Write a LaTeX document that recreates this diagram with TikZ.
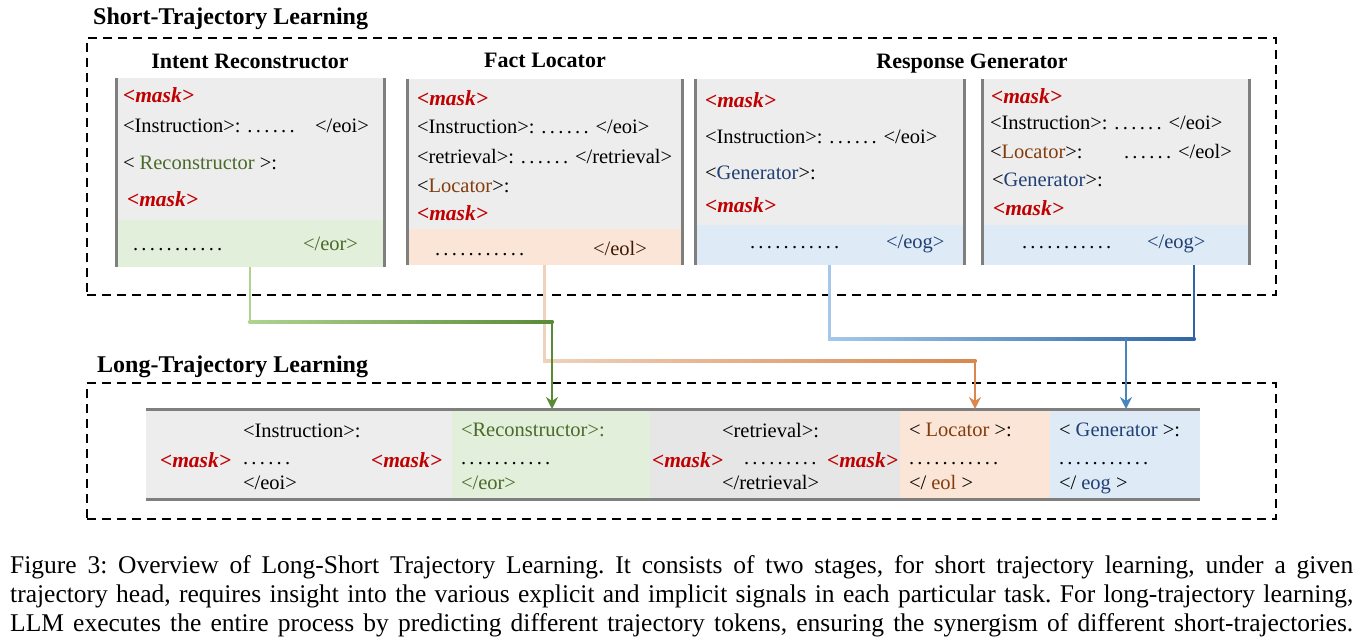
\documentclass[tikz,border=0pt]{standalone}
\usepackage{fontspec}
\setmainfont{Liberation Serif}
\usetikzlibrary{arrows.meta,calc}

% palette
\definecolor{maskred}{HTML}{C00000}
\definecolor{cellgray}{HTML}{EDEDED}
\definecolor{cellgrayB}{HTML}{E6E6E6}
\definecolor{cellgreen}{HTML}{E2EFDA}
\definecolor{cellpeach}{HTML}{FBE5D6}
\definecolor{cellblue}{HTML}{DEEBF7}
\definecolor{recon}{HTML}{4A6A2A}
\definecolor{locat}{HTML}{843C0C}
\definecolor{gener}{HTML}{203F73}
\definecolor{rulegray}{HTML}{7F7F7F}
\definecolor{glight}{HTML}{AED490}
\definecolor{gdark}{HTML}{5A8A36}
\definecolor{plight}{HTML}{EFD2BC}
\definecolor{pdark}{HTML}{D9874E}
\definecolor{blight}{HTML}{A4C8EA}
\definecolor{bdark}{HTML}{2F66A3}
\definecolor{bmid}{HTML}{4A84BF}

% widely spaced dot runs
\newcommand\dd{.\kern3.3pt}
\newcommand\dotsix{\dd\dd\dd\dd\dd.}
\newcommand\dotnine{\dd\dd\dd\dd\dd\dd\dd\dd.}
\newcommand\dotelev{\dd\dd\dd\dd\dd\dd\dd\dd\dd\dd.}
\newcommand\mk{\textcolor{maskred}{\fontsize{21.5}{24}\selectfont\bfseries\itshape <mask>}}

\tikzset{
  txt/.style={anchor=base west, inner sep=0pt, outer sep=0pt, font=\fontsize{20.5}{24}\selectfont},
  ttl/.style={anchor=base, inner sep=0pt, font=\fontsize{22}{26}\selectfont\bfseries},
  sec/.style={anchor=base west, inner sep=0pt, font=\fontsize{24}{28}\selectfont\bfseries},
  cellbox/.style={anchor=north west, inner sep=0pt, outer sep=0pt},
  frame/.style={anchor=north west, inner sep=0pt, outer sep=0pt, draw=black,
                line width=2.4pt, dash pattern=on 9pt off 6pt},
  siderule/.style={draw=rulegray, line width=3pt},
  conn/.style={line width=2.6pt},
  tip/.style={-{Stealth[length=12pt,width=12pt,inset=4pt]}},
  capline/.style={anchor=base west, inner sep=0pt, font=\fontsize{25.5}{29}\selectfont\frenchspacing},
}

\begin{document}
\begin{tikzpicture}[x=1pt,y=-1pt]
\useasboundingbox (0,0) rectangle (1362,643);

% ---------- section frames ----------
\node[frame, minimum width=1189pt, minimum height=257pt] (st) at (87,38) {};
\node[frame, minimum width=1189pt, minimum height=136pt] (lg) at (87,383) {};
\node[sec] (s1) at (93,24.5) {Short-Trajectory Learning};
\node[sec] (s2) at (97,372) {Long-Trajectory Learning};

% ---------- short-trajectory cells ----------
\node[cellbox, minimum width=268pt, minimum height=189pt] (ir) at (116,78) {};
\node[cellbox, minimum width=275pt, minimum height=186pt] (fl) at (407,79) {};
\node[cellbox, minimum width=269pt, minimum height=186pt] (rg) at (695,79) {};
\node[cellbox, minimum width=267pt, minimum height=186pt] (rl) at (982,79) {};

\fill[cellgray] (ir.north west) rectangle (ir.south east);
\fill[cellgreen] (ir.south west) rectangle ([yshift=47pt]ir.south east);
\fill[cellgray] (fl.north west) rectangle (fl.south east);
\fill[cellpeach] (fl.south west) rectangle ([yshift=36pt]fl.south east);
\fill[cellgray] (rg.north west) rectangle (rg.south east);
\fill[cellblue] (rg.south west) rectangle ([yshift=40pt]rg.south east);
\fill[cellgray] (rl.north west) rectangle (rl.south east);
\fill[cellblue] (rl.south west) rectangle ([yshift=40pt]rl.south east);
\foreach \b in {ir,fl,rg,rl}{
  \draw[siderule] (\b.north west) -- (\b.south west);
  \draw[siderule] (\b.north east) -- (\b.south east);
}

\node[ttl] (t1) at (250,68) {Intent Reconstructor};
\node[ttl] (t2) at (545,67) {Fact Locator};
\node[ttl] (t3) at (972,68) {Response Generator};

% Intent Reconstructor
\node[txt] (a1) at (123,102) {\mk};
\node[txt] (a2) at (123,132.5) {<Instruction>: \dotsix};
\node[txt] (a3) at (315,132.5) {</eoi>};
\node[txt] (a4) at (123,169.5) {< \textcolor{recon}{Reconstructor} >:};
\node[txt] (a5) at (127,206) {\mk};
\node[txt] (a6) at (133,250) {\dotelev};
\node[txt] (a7) at (303,250) {\textcolor{recon}{</eor>}};

% Fact Locator
\node[txt] (b1) at (417,105) {\mk};
\node[txt] (b2) at (417,133.5) {<Instruction>: \dotsix{} </eoi>};
\node[txt] (b3) at (417,163.5) {<retrieval>: \dotsix{} </retrieval>};
\node[txt] (b4) at (417,192.5) {<\textcolor{locat}{Locator}>:};
\node[txt] (b5) at (417,220) {\mk};
\node[txt] (b6) at (435,255) {\dotelev};
\node[txt] (b7) at (593,255) {\textcolor{locat!45!black}{</eol>}};

% Response Generator (first)
\node[txt] (c1) at (705,107) {\mk};
\node[txt] (c2) at (705,143.5) {<Instruction>: \dotsix{} </eoi>};
\node[txt] (c3) at (705,179.5) {<\textcolor{gener}{Generator}>:};
\node[txt] (c4) at (705,212) {\mk};
\node[txt] (c5) at (750,248) {\dotelev};
\node[txt] (c6) at (886,248) {\textcolor{gener}{</eog>}};

% Response Generator (second)
\node[txt] (d1) at (991,103) {\mk};
\node[txt] (d2) at (990,129.5) {<Instruction>: \dotsix{} </eoi>};
\node[txt] (d3) at (990,158.5) {<\textcolor{locat}{Locator}>:};
\node[txt] (d4) at (1124,158.5) {\dotsix{} </eol>};
\node[txt] (d5) at (992,186.5) {<\textcolor{gener}{Generator}>:};
\node[txt] (d6) at (993,215) {\mk};
\node[txt] (d7) at (1022,248) {\dotelev};
\node[txt] (d8) at (1147,248) {\textcolor{gener}{</eog>}};

% ---------- long-trajectory strip ----------
\node[cellbox, minimum width=1054pt, minimum height=90pt] (lt) at (146,409) {};
\fill[cellgray]  (lt.north west) rectangle ([xshift=306pt]lt.south west);
\fill[cellgreen] ([xshift=306pt]lt.north west) rectangle ([xshift=504pt]lt.south west);
\fill[cellgrayB] ([xshift=504pt]lt.north west) rectangle ([xshift=754pt]lt.south west);
\fill[cellpeach] ([xshift=754pt]lt.north west) rectangle ([xshift=904pt]lt.south west);
\fill[cellblue]  ([xshift=904pt]lt.north west) rectangle (lt.south east);
\draw[siderule] (lt.north west) -- (lt.north east);
\draw[siderule] (lt.south west) -- (lt.south east);

\node[txt] (l1) at (160,467.5) {\mk};
\node[txt] (l2) at (243,437.5) {<Instruction>:};
\node[txt] (l3) at (243,464.5) {\dotsix};
\node[txt] (l4) at (243,489) {</eoi>};
\node[txt] (l5) at (371,467.5) {\mk};
\node[txt] (l6) at (461,436.5) {\textcolor{recon}{<Reconstructor>:}};
\node[txt] (l7) at (461,464.5) {\dotelev};
\node[txt] (l8) at (461,489) {\textcolor{recon}{</eor>}};
\node[txt] (l9) at (652,467.5) {\mk};
\node[txt] (l10) at (722,437.5) {<retrieval>:};
\node[txt] (l11) at (744,464.5) {\dotnine};
\node[txt] (l12) at (827,467.5) {\mk};
\node[txt] (l13) at (722,489) {</retrieval>};
\node[txt] (l14) at (909,436.5) {< \textcolor{locat}{Locator} >:};
\node[txt] (l15) at (909,464.5) {\dotelev};
\node[txt] (l16) at (909,489) {</ \textcolor{locat}{eol} >};
\node[txt] (l17) at (1059,436.5) {< \textcolor{gener}{Generator} >:};
\node[txt] (l18) at (1059,464.5) {\dotelev};
\node[txt] (l19) at (1059,489) {</ \textcolor{gener}{eog} >};

% ---------- connectors ----------
% fact locator -> locator slot
\coordinate (pB) at (fl.south |- 0,361);
\coordinate (pC) at (975,361);
\draw[conn, plight] (fl.south) -- ([yshift=-1.3pt]pB);
\shade[left color=plight, right color=pdark] ($(pB)+(-1.3,-1.3)$) rectangle ($(pC)+(1.3,1.3)$);
\draw[conn, pdark, tip] ([yshift=1.3pt]pC) -- (pC |- lt.north);

% intent reconstructor -> reconstructor slot
\coordinate (gA) at (ir.south);
\coordinate (gB) at (gA |- 0,322);
\coordinate (gC) at (552,322);
\draw[conn, glight] (gA) -- ([yshift=-1.3pt]gB);
\shade[left color=glight, right color=gdark] ($(gB)+(-1.3,-1.3)$) rectangle ($(gC)+(1.3,1.3)$);
\draw[conn, gdark, tip] ([yshift=1.3pt]gC) -- (gC |- lt.north);

% both generators -> generator slot
\coordinate (bB) at (rg.south |- 0,339);
\coordinate (bC) at (1194,339);
\coordinate (bJ) at (1126,339);
\draw[conn, blight] (rg.south) -- ([yshift=-1.3pt]bB);
\shade[left color=blight, right color=bdark] ($(bB)+(-1.3,-1.3)$) rectangle ($(bC)+(1.3,1.3)$);
\draw[conn, bdark] (bC |- rl.south) -- ([yshift=-1.3pt]bC);
\draw[conn, bmid, tip] ([yshift=1.3pt]bJ) -- (bJ |- lt.north);

% ---------- caption ----------
\node[capline] (cap1) at (10,573) {\makebox[1343pt][s]{Figure 3: Overview of Long-Short Trajectory Learning. It consists of two stages, for short trajectory learning, under a given}};
\node[capline] (cap2) at (10,602) {\makebox[1343pt][s]{trajectory head, requires insight into the various explicit and implicit signals in each particular task. For long-trajectory learning,}};
\node[capline] (cap3) at (10,631) {\makebox[1343pt][s]{LLM executes the entire process by predicting different trajectory tokens, ensuring the synergism of different short-trajectories.}};
\end{tikzpicture}
\end{document}
